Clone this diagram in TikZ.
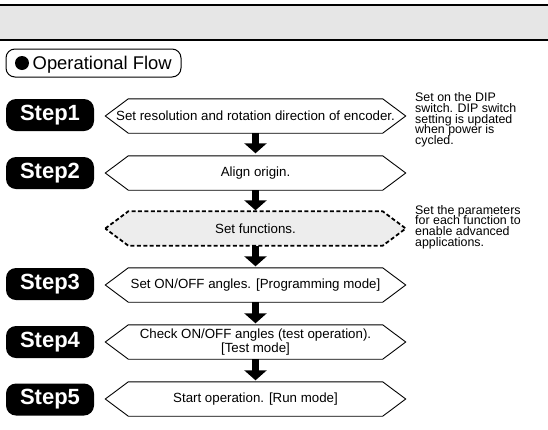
\documentclass[tikz,border=0pt]{standalone}
\usepackage{fontspec}
\setmainfont{Liberation Sans}
\usetikzlibrary{arrows.meta}
\definecolor{bandgray}{HTML}{E6E6E6}
\definecolor{dashgray}{HTML}{EDEDED}
\newcommand{\tightls}{\lineskiplimit=-20pt\relax}
\tikzset{
  hexnode/.style={minimum width=300pt, minimum height=34pt, inner sep=0pt, align=center,
    font=\fontsize{13.3}{13.3}\selectfont\tightls},
  stepbox/.style={fill=black, text=white, rounded corners=10pt, minimum width=88pt,
    minimum height=32pt, inner sep=0pt, font=\fontsize{22}{24}\selectfont\bfseries},
  hexline/.style={draw=black, line width=0.9pt, fill=white},
  dashline/.style={draw=black, line width=1.8pt, dash pattern=on 4pt off 2.4pt, fill=dashgray},
  flowarrow/.style={line width=7pt, -{Triangle[width=22pt,length=10pt]}},
  note/.style={anchor=north west, inner sep=0pt, align=left,
    font=\fontsize{12.4}{10.8}\selectfont\tightls},
  opbox/.style={draw=black, line width=1pt, rounded corners=9pt, minimum width=175pt,
    minimum height=28pt, inner sep=0pt},
}
\newcommand{\hexshape}[2]{%
  \path[#2] (#1.west) -- ([xshift=23pt]#1.north west) -- ([xshift=-23pt]#1.north east)
    -- (#1.east) -- ([xshift=-23pt]#1.south east) -- ([xshift=23pt]#1.south west) -- cycle;}
\begin{document}
\begin{tikzpicture}[x=1pt, y=-1pt]
\useasboundingbox (0,0) rectangle (548,429);
% header band
\fill[bandgray] (0,5) rectangle (548,40);
\draw[line width=1.2pt] (0,5) -- (548,5);
\draw[line width=1.2pt] (0,40) -- (548,40);
% Operational flow title
\node[opbox] (opflow) at (93.5,63) {};
\node[circle, fill=black, minimum size=14pt, inner sep=0pt] (opdot) at (22,63) {};
\node[anchor=base west, inner sep=0pt, font=\fontsize{18.4}{20}\selectfont] (optext) at (32.5,69.5) {Operational Flow};
% hexagon nodes (frames)
\node[hexnode] (h1) at (255.5,116) {};
\node[hexnode] (h2) at (255.5,173) {};
\node[hexnode] (hf) at (255.5,228.5) {};
\node[hexnode] (h3) at (255.5,285) {};
\node[hexnode] (h4) at (255.5,342) {};
\node[hexnode] (h5) at (255.5,399) {};
\hexshape{h1}{hexline}
\hexshape{h2}{hexline}
\hexshape{hf}{dashline}
\hexshape{h3}{hexline}
\hexshape{h4}{hexline}
\hexshape{h5}{hexline}
\node[hexnode] (t1) at (h1) {Set resolution and rotation direction of encoder.};
\node[hexnode] (t2) at (h2) {Align origin.};
\node[hexnode] (tf) at (hf) {Set functions.};
\node[hexnode] (t3) at (h3) {Set ON/OFF angles. [Programming mode]};
\node[hexnode] (t4) at (h4) {Check ON/OFF angles (test operation).\\{}[Test mode]};
\node[hexnode] (t5) at (h5) {Start operation. [Run mode]};
% step labels
\node[stepbox] (s1) at (50,115) {Step1};
\node[stepbox] (s2) at (50,173) {Step2};
\node[stepbox] (s3) at (50,284) {Step3};
\node[stepbox] (s4) at (50,342) {Step4};
\node[stepbox] (s5) at (50,399.5) {Step5};
% arrows
\draw[flowarrow] (h1.south) -- ([yshift=2.5pt]h2.north);
\draw[flowarrow] (h2.south) -- ([yshift=1pt]hf.north);
\draw[flowarrow] (hf.south) -- ([yshift=1.5pt]h3.north);
\draw[flowarrow] (h3.south) -- ([yshift=1.5pt]h4.north);
\draw[flowarrow] (h4.south) -- ([yshift=1.5pt]h5.north);
% notes
\node[note] (n1) at (415,92.3) {Set on the DIP\\switch. DIP switch\\setting is updated\\when power is\\cycled.};
\node[note] (n2) at (415,205) {Set the parameters\\for each function to\\enable advanced\\applications.};
\end{tikzpicture}
\end{document}
